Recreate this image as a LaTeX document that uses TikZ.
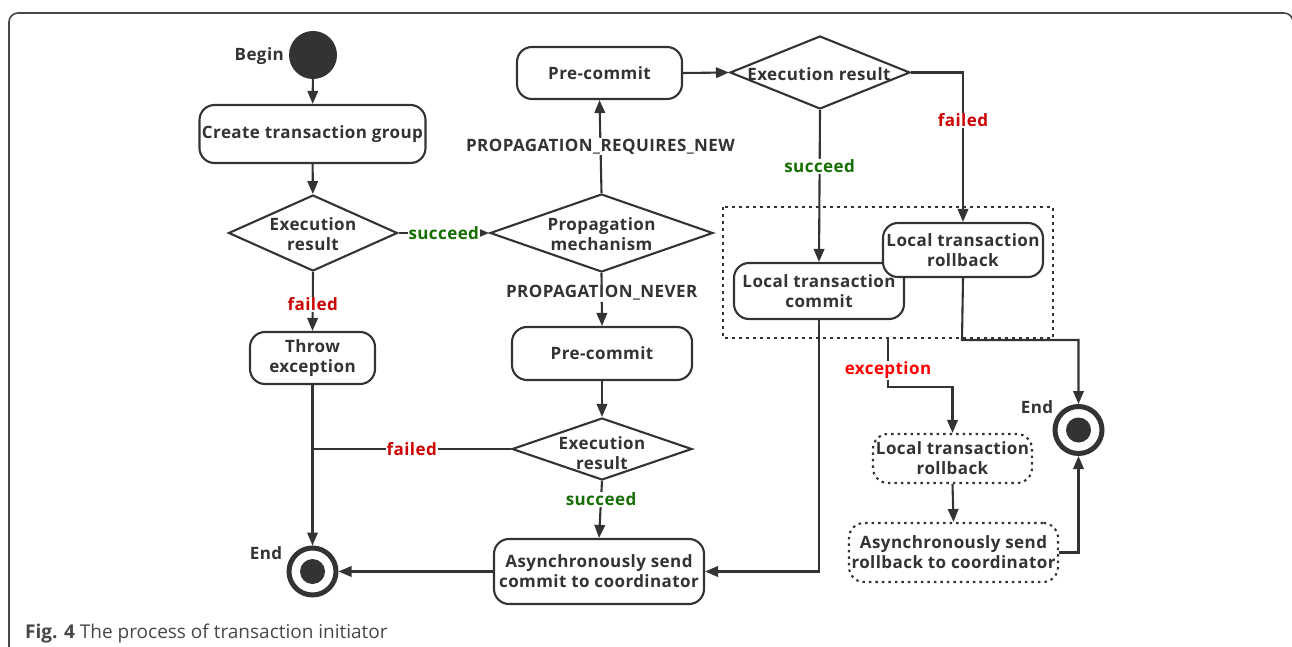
\documentclass[tikz,border=0pt]{standalone}
\usepackage{fontspec}
\setmainfont{Open Sans}
\newfontfamily\flowfamily[LetterSpace=2.5]{Open Sans}
\usetikzlibrary{arrows.meta,shapes.geometric}

\definecolor{ink}{HTML}{333333}
\definecolor{okgreen}{RGB}{20,110,0}
\definecolor{badred}{RGB}{204,0,0}
\definecolor{exred}{RGB}{255,0,0}

\newcommand\flowfont{\flowfamily\bfseries\fontsize{17}{20}\selectfont}

\tikzset{
  ln/.style={draw=ink, line width=2.1pt},
  arr/.style={ln, -{Triangle[length=13pt,width=10.5pt]}},
  act/.style={draw=ink, line width=2.1pt, rounded corners=15pt, fill=white,
              align=center, inner sep=0pt, font=\flowfont, text=ink},
  dotact/.style={act, dash pattern=on 2.5pt off 4pt},
  dec/.style={diamond, draw=ink, line width=2.1pt, inner sep=0pt, fill=white},
  txt/.style={font=\flowfont, text=ink, align=center, inner sep=1pt},
  onln/.style={txt, fill=white},
  okl/.style={onln, text=okgreen},
  badl/.style={onln, text=badred},
  exl/.style={onln, text=exred},
  startdot/.style={circle, fill=ink, minimum size=48pt, inner sep=0pt},
  enddot/.style={circle, draw=ink, line width=5pt, fill=white, minimum size=47pt, inner sep=0pt},
}

\begin{document}
\begin{tikzpicture}[x=1pt, y=-1pt]
\useasboundingbox (0,0) rectangle (1292,647);
\begin{scope}
  \clip (0,0) rectangle (1292,647);
  \draw[ink!90, line width=1.6pt, rounded corners=9pt] (9,700) -- (9,13) -- (1293,13) -- (1293,700);
\end{scope}

% ---- left column
\node[startdot] (begin) at (313,55) {};
\node[txt, anchor=east] (beginl) at (285,56) {Begin};
\node[act, minimum width=226pt, minimum height=58pt] (create) at (312.5,134) {Create transaction group};
\node[dec, minimum width=169pt, minimum height=76pt] (d1) at (313,233) {};
\node[txt] (d1l) at (313,234) {Execution\\result};
\node[act, minimum width=125pt, minimum height=52pt] (throw) at (312.5,358) {Throw\\exception};
\node[enddot] (end1) at (312.5,571.5) {};
\fill[ink] (end1.center) circle (12.5);
\node[txt] (end1l) at (266,553) {End};

% ---- middle column
\node[dec, minimum width=223pt, minimum height=78pt] (d2) at (601.5,233) {};
\node[txt] (d2l) at (601.5,234) {Propagation\\mechanism};
\node[act, minimum width=165pt, minimum height=52pt] (pre1) at (599.5,73) {Pre-commit};
\node[act, minimum width=180pt, minimum height=53pt] (pre2) at (602,353.5) {Pre-commit};
\node[dec, minimum width=180pt, minimum height=62pt] (d4) at (602,449) {};
\node[txt] (d4l) at (602,453) {Execution\\result};
\node[act, minimum width=210pt, minimum height=65pt] (as1) at (599,571.5) {Asynchronously send\\commit to coordinator};

% ---- right column
\node[dec, minimum width=180pt, minimum height=73pt] (d3) at (820,72.5) {};
\node[txt] (d3l) at (819,74) {Execution result};
\draw[ink, line width=2pt, dash pattern=on 3pt off 4pt] (723,207) rectangle (1053,338);
\coordinate (grpbot) at (888,338);
\node[act, minimum width=170pt, minimum height=56pt] (cm1) at (819,291) {Local transaction\\commit};
\node[act, minimum width=160pt, minimum height=54pt] (rb1) at (963,250) {Local transaction\\rollback};
\node[enddot] (end2) at (1078.5,430) {};
\fill[ink] (end2.center) circle (12.5);
\node[txt] (end2l) at (1037,407) {End};
\node[dotact, minimum width=159pt, minimum height=49pt] (rb2) at (952.5,458.5) {Local transaction\\rollback};
\node[dotact, minimum width=209pt, minimum height=59pt] (as2) at (953.5,552.5) {Asynchronously send\\rollback to coordinator};

% ---- connectors
\draw[arr] (begin) -- (create);
\draw[arr] (create) -- (d1);
\draw[arr] (d1.south) -- (throw.north) node[badl, pos=0.55] {failed};
\draw[arr] (throw.south) -- (end1.north);
\draw[ln] (d4.west) -- (throw.south |- d4.west) node[badl, pos=0.5] {failed};
\draw[arr] (as1.west) -- (end1.east);

\draw[arr] (d1.east) -- (d2.west) node[okl, pos=0.5] {succeed};
\draw[arr] (d2.north) -- (pre1.south) node[txt, fill=white, pos=0.5] {PROPAGATION\_REQUIRES\_NEW};
\draw[arr] (d2.south) -- (pre2.north) node[txt, fill=white, pos=0.38] {PROPAGATION\_NEVER};
\draw[arr] (pre2.south) -- (d4.north);
\draw[arr] (d4.south) -- (as1.north) node[okl, pos=0.32] {succeed};

\draw[arr] (pre1.east) -- (d3.west);
\draw[arr] (d3.east) -| (rb1.north) node[badl, pos=0.66] {failed};
\draw[arr] (d3.south) -- (cm1.north) node[okl, pos=0.37] {succeed};
\draw[arr] (cm1.south) |- (as1.east);
\draw[arr] (rb1.south) -- (962,340) -| (end2.north);
\draw[arr] (grpbot) -- (888,387) -| (rb2.north);
\node[exl] (exlab) at (888,370) {exception};
\draw[arr] (rb2.south) -- (as2.north);
\draw[arr] (as2.east) -| (end2.south);

% ---- caption
\node[anchor=base west, inner sep=0pt, text=ink!90, font=\fontsize{19}{22}\selectfont] (cap) at (25,638)
  {\textbf{Fig. 4} The process of transaction initiator};
\end{tikzpicture}
\end{document}
